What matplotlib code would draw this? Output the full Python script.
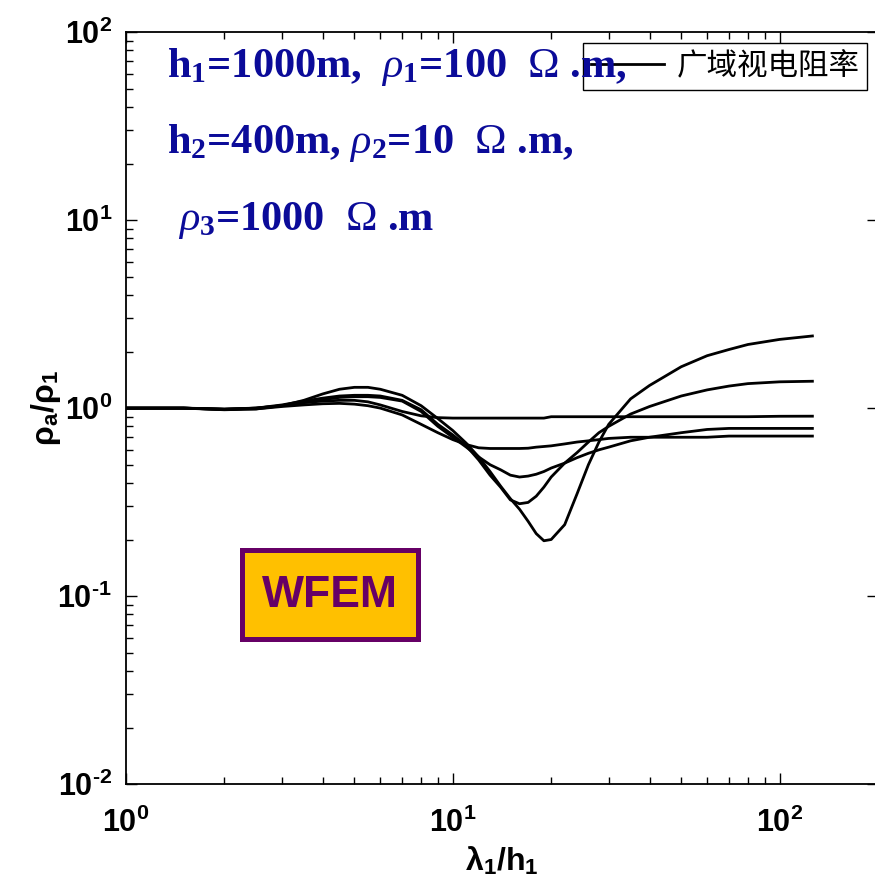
import numpy as np
import matplotlib
matplotlib.use('Agg')
import matplotlib.pyplot as plt
from matplotlib.patches import Rectangle
from matplotlib.ticker import FuncFormatter

# normalised wavelength lambda_1 / h_1
lam = [1, 1.5, 2, 2.5, 3, 3.5, 4, 4.5, 5, 5.5, 6, 7, 8, 9, 10, 11, 12, 13, 14, 15,
       16, 17, 18, 19, 20, 22, 24, 26, 28, 30, 35, 40, 50, 60, 70, 80, 100, 126]

# apparent resistivity curves rho_a / rho_1
rho_a = [1.0, 1.0, 0.985, 0.99, 1.03, 1.1, 1.19, 1.26, 1.29, 1.29, 1.26, 1.17, 1.03, 0.88, 0.76,
         0.65, 0.55, 0.46, 0.385, 0.33, 0.29, 0.25, 0.215, 0.197, 0.2, 0.24, 0.35, 0.5, 0.66,
         0.82, 1.12, 1.32, 1.66, 1.9, 2.05, 2.18, 2.32, 2.42]
rho_b = [1.0, 1.0, 0.985, 1.0, 1.04, 1.09, 1.13, 1.16, 1.17, 1.17, 1.16, 1.1, 0.98, 0.82, 0.72,
         0.63, 0.53, 0.44, 0.38, 0.325, 0.31, 0.315, 0.34, 0.38, 0.43, 0.51, 0.58, 0.66, 0.74,
         0.8, 0.93, 1.02, 1.16, 1.25, 1.31, 1.35, 1.38, 1.39]
rho_c = [1.0, 1.0, 0.99, 1.0, 1.03, 1.07, 1.11, 1.14, 1.15, 1.15, 1.14, 1.09, 0.96, 0.8, 0.7,
         0.62, 0.55, 0.5, 0.47, 0.44, 0.43, 0.435, 0.445, 0.46, 0.48, 0.51, 0.545, 0.575, 0.6,
         0.62, 0.67, 0.7, 0.74, 0.77, 0.78, 0.78, 0.78, 0.78]
rho_d = [1.0, 1.0, 0.98, 0.99, 1.02, 1.04, 1.055, 1.06, 1.05, 1.03, 1.0, 0.92, 0.82, 0.74, 0.68,
         0.64, 0.615, 0.61, 0.61, 0.61, 0.61, 0.612, 0.62, 0.625, 0.63, 0.645, 0.66, 0.67, 0.68,
         0.69, 0.7, 0.7, 0.7, 0.7, 0.71, 0.71, 0.71, 0.71]
rho_e = [1.0, 1.0, 0.985, 1.0, 1.03, 1.07, 1.09, 1.1, 1.1, 1.08, 1.04, 0.96, 0.91, 0.89, 0.885,
         0.885, 0.885, 0.885, 0.885, 0.885, 0.885, 0.885, 0.885, 0.885, 0.9, 0.9, 0.9, 0.9, 0.9,
         0.9, 0.9, 0.9, 0.9, 0.9, 0.9, 0.9, 0.905, 0.906]

curves = [rho_a, rho_b, rho_c, rho_d, rho_e]
legend_label = '广域视电阻率'
model_lines = ['h$_1$=1000m,  $\\rho_1$=100  $\\mathsf{\\Omega}$ .m,',
               'h$_2$=400m, $\\rho_2$=10  $\\mathsf{\\Omega}$ .m,',
               '$\\rho_3$=1000  $\\mathsf{\\Omega}$ .m']

plt.rcParams['mathtext.fontset'] = 'custom'
plt.rcParams['mathtext.rm'] = 'Liberation Serif:bold'
plt.rcParams['mathtext.it'] = 'Liberation Serif:italic'
plt.rcParams['mathtext.bf'] = 'Liberation Serif:bold'
plt.rcParams['mathtext.sf'] = 'Liberation Serif'
sans = ['Liberation Sans', 'DejaVu Sans']


def decade_label(v, pos):
    e = int(round(np.log10(v)))
    s = str(e).replace('-', '‐')
    return '$\\mathdefault{10^{%s}}$' % s


fig = plt.figure(figsize=(8.75, 8.83), dpi=100)
ax = fig.add_axes([0.144, 0.112, 0.8594, 0.8516])

for i, c in enumerate(curves):
    ax.plot(lam, c, color='black', lw=2.0, label=legend_label if i == 0 else None)

ax.set_xscale('log')
ax.set_yscale('log')
ax.set_xlim(1, 200)
ax.set_ylim(1e-2, 1e2)
ax.xaxis.set_major_formatter(FuncFormatter(decade_label))
ax.yaxis.set_major_formatter(FuncFormatter(decade_label))

for s in ax.spines.values():
    s.set_linewidth(1.3)
ax.tick_params(which='both', direction='in', top=True, right=True)
ax.tick_params(which='major', length=8, width=1, labelsize=22, pad=10)
ax.tick_params(axis='x', which='major', pad=17)
ax.tick_params(which='minor', length=5, width=1)
ax.tick_params(axis='y', which='minor', right=False)
for lab in ax.get_xticklabels() + ax.get_yticklabels():
    lab.set_fontfamily(sans)
    lab.set_fontweight('bold')

ax.set_xlabel('λ$_\\mathregular{1}$/h$_\\mathregular{1}$', fontsize=23, fontweight='bold',
              family=sans, labelpad=4)
ax.set_ylabel('ρ$_\\mathregular{a}$/ρ$_\\mathregular{1}$', fontsize=23, fontweight='bold',
              family=sans, labelpad=-4)

leg = ax.legend(loc='upper left', bbox_to_anchor=(0.608, 0.985), borderaxespad=0,
                prop={'family': ['Noto Sans CJK SC', 'DejaVu Sans'], 'size': 22},
                handlelength=2.4, handletextpad=0.4, borderpad=0.25,
                fancybox=False, framealpha=1, edgecolor='black')
leg.get_frame().set_linewidth(1.0)

blue = '#0b0b99'
ax.text(0.0545, 0.940, model_lines[0], transform=ax.transAxes, color=blue, fontsize=30.5,
        fontweight='bold', family='Liberation Serif', va='baseline', zorder=6)
ax.text(0.0545, 0.839, model_lines[1], transform=ax.transAxes, color=blue, fontsize=30.5,
        fontweight='bold', family='Liberation Serif', va='baseline', zorder=6)
ax.text(0.069, 0.737, model_lines[2], transform=ax.transAxes, color=blue, fontsize=30.5,
        fontweight='bold', family='Liberation Serif', va='baseline', zorder=6)

# WFEM badge
fig.patches.append(Rectangle((0.2766, 0.2758), 0.2011, 0.1008, transform=fig.transFigure,
                             facecolor='#ffc000', edgecolor='#660066', linewidth=3.6))
fig.text(0.377, 0.326, 'WFEM', color='#660066', fontsize=32, fontweight='bold',
         family=sans, ha='center', va='center')

fig.savefig('out.png', dpi=100)
